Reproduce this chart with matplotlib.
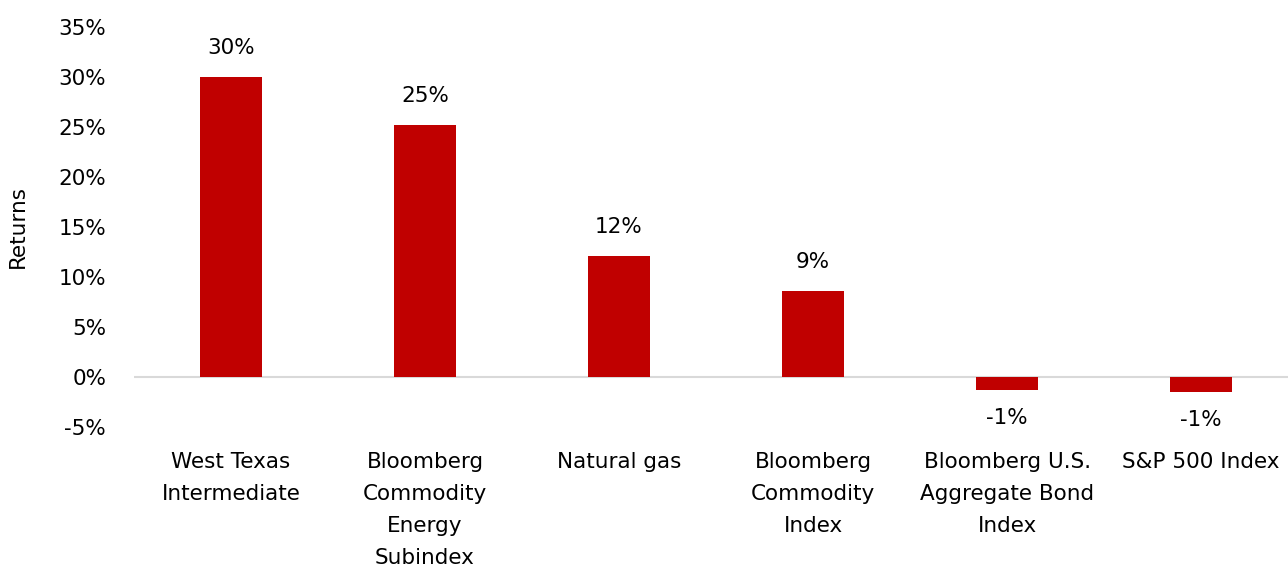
import matplotlib
matplotlib.use("Agg")
import matplotlib.pyplot as plt

categories = ["West Texas\nIntermediate", "Bloomberg\nCommodity\nEnergy\nSubindex",
              "Natural gas", "Bloomberg\nCommodity\nIndex",
              "Bloomberg U.S.\nAggregate Bond\nIndex", "S&P 500 Index"]
returns = [30.0, 25.2, 12.1, 8.6, -1.3, -1.5]
value_labels = ["30%", "25%", "12%", "9%", "-1%", "-1%"]
yticks = [-5, 0, 5, 10, 15, 20, 25, 30, 35]
ytick_labels = ["-5%", "0%", "5%", "10%", "15%", "20%", "25%", "30%", "35%"]

plt.rcParams['font.family'] = ['DejaVu Sans']
FS = 15.5
fig = plt.figure(figsize=(12.88, 5.72), dpi=100)
W, H = 1288, 572
ax = fig.add_axes([134 / W, 1 - 427 / H, (1288 - 134) / W, (427 - 27) / H])

x = list(range(len(categories)))
ax.bar(x, returns, width=0.32, color="#C00000", zorder=3)
ax.axhline(0, color="#D9D9D9", lw=1.5, zorder=2)

for xi, v, lab in zip(x, returns, value_labels):
    if v >= 0:
        ax.annotate(lab, (xi, v), xytext=(0, 14), textcoords="offset points",
                    ha="center", va="bottom", fontsize=FS, color="#000000")
    else:
        ax.annotate(lab, (xi, v), xytext=(0, -13), textcoords="offset points",
                    ha="center", va="top", fontsize=FS, color="#000000")

ax.set_xlim(-0.5, 5.448)
ax.set_ylim(-5, 35)
ax.set_yticks(yticks)
ax.set_yticklabels(ytick_labels, fontsize=FS)
ax.set_xticks(x)
ax.set_xticklabels(categories, fontsize=FS, linespacing=1.75)
ax.tick_params(axis="both", length=0)
ax.tick_params(axis="y", pad=20)
ax.tick_params(axis="x", pad=18)
for s in ax.spines.values():
    s.set_visible(False)
ax.set_ylabel("Returns", fontsize=FS, labelpad=22)

fig.savefig("out.png", dpi=100)
